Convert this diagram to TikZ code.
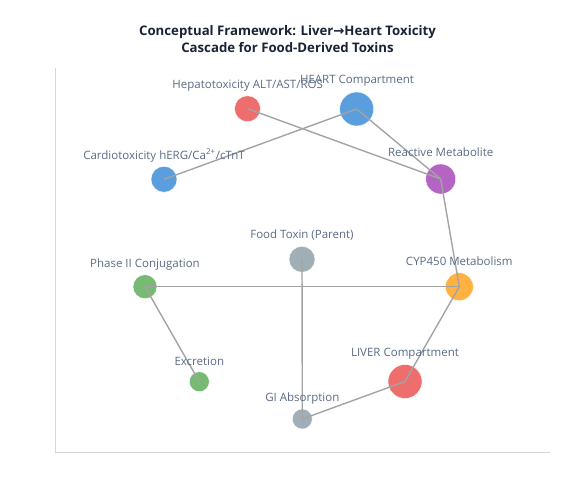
\documentclass[tikz,border=0pt]{standalone}
\usepackage{fontspec}
\setmainfont{Open Sans}
\newfontfamily\arrowfont{DejaVu Sans}
\usetikzlibrary{positioning}

\definecolor{toxRed}{HTML}{EE6E6E}
\definecolor{toxBlue}{HTML}{5A9EDE}
\definecolor{toxPurple}{HTML}{B464C3}
\definecolor{toxOrange}{HTML}{FFB142}
\definecolor{toxGreen}{HTML}{76BA74}
\definecolor{toxGray}{HTML}{A0AEB6}
\definecolor{labelGray}{HTML}{5B6B84}
\definecolor{titleNavy}{HTML}{1B2236}
\definecolor{edgeGray}{HTML}{A3A3A3}
\definecolor{axisGray}{HTML}{D6D6D6}

\begin{document}
\begin{tikzpicture}[x=1pt, y=-1pt,
    circStyle/.style={circle, inner sep=0pt, draw=white, line width=0.4pt, minimum size=#1},
    textStyle/.style={inner sep=0pt, text=labelGray, font=\fontsize{11.5}{13}\selectfont},
    edgeStyle/.style={draw=edgeGray, line width=1.4pt},
    axisStyle/.style={draw=axisGray, line width=1pt}]
    \useasboundingbox (0,0) rectangle (575,500);

    \node[align=center, text=titleNavy, font=\fontsize{13.2}{17}\selectfont\bfseries] (title) at (287.5, 39)
        {Conceptual Framework: Liver{\arrowfont →}Heart Toxicity\\Cascade for Food-Derived Toxins};

    \draw[axisStyle] (55.5, 68) -- (55.5, 452.5) -- (550, 452.5);

    \node[circStyle=26pt, fill=toxRed]    (hep)    at (247.5, 108.7) {};
    \node[circStyle=34pt, fill=toxBlue]   (heart)  at (356.7, 109.0) {};
    \node[circStyle=26pt, fill=toxBlue]   (cardio) at (164.0, 179.3) {};
    \node[circStyle=30pt, fill=toxPurple] (react)  at (440.7, 179.0) {};
    \node[circStyle=26pt, fill=toxGray]   (food)   at (302.0, 259.3) {};
    \node[circStyle=24pt, fill=toxGreen]  (phase2) at (145.0, 286.7) {};
    \node[circStyle=28pt, fill=toxOrange] (cyp)    at (459.3, 286.7) {};
    \node[circStyle=20pt, fill=toxGreen]  (excr)   at (199.3, 381.7) {};
    \node[circStyle=34pt, fill=toxRed]    (liver)  at (405.0, 381.5) {};
    \node[circStyle=20pt, fill=toxGray]   (gi)     at (302.3, 419.0) {};

    % cascade
    \draw[edgeStyle] (food.center) -- (gi.center);
    \draw[edgeStyle] (gi.center) -- (liver.center);
    \draw[edgeStyle] (liver.center) -- (cyp.center);
    \draw[edgeStyle] (cyp.center) -- (react.center);
    \draw[edgeStyle] (cyp.center) -- (phase2.center);
    \draw[edgeStyle] (phase2.center) -- (excr.center);
    \draw[edgeStyle] (react.center) -- (hep.center);
    \draw[edgeStyle] (react.center) -- (heart.center);
    \draw[edgeStyle] (heart.center) -- (cardio.center);

    \node[textStyle] (hep_T)    at (247.7, 85.5)  {Hepatotoxicity ALT/AST/ROS};
    \node[textStyle] (heart_T)  at (357.0, 80.5)  {HEART Compartment};
    \node[textStyle] (cardio_T) at (164.0, 155.5) {Cardiotoxicity hERG/Ca\textsuperscript{2+}/cTnT};
    \node[textStyle] (react_T)  at (440.7, 152.5) {Reactive Metabolite};
    \node[textStyle] (food_T)   at (302.0, 235.5) {Food Toxin (Parent)};
    \node[textStyle] (phase2_T) at (145.0, 264.5) {Phase II Conjugation};
    \node[textStyle] (cyp_T)    at (459.3, 261.5) {CYP450 Metabolism};
    \node[textStyle] (excr_T)   at (199.3, 361.5) {Excretion};
    \node[textStyle] (liver_T)  at (405.0, 353.5) {LIVER Compartment};
    \node[textStyle] (gi_T)     at (302.3, 398.5) {GI Absorption};
\end{tikzpicture}
\end{document}
